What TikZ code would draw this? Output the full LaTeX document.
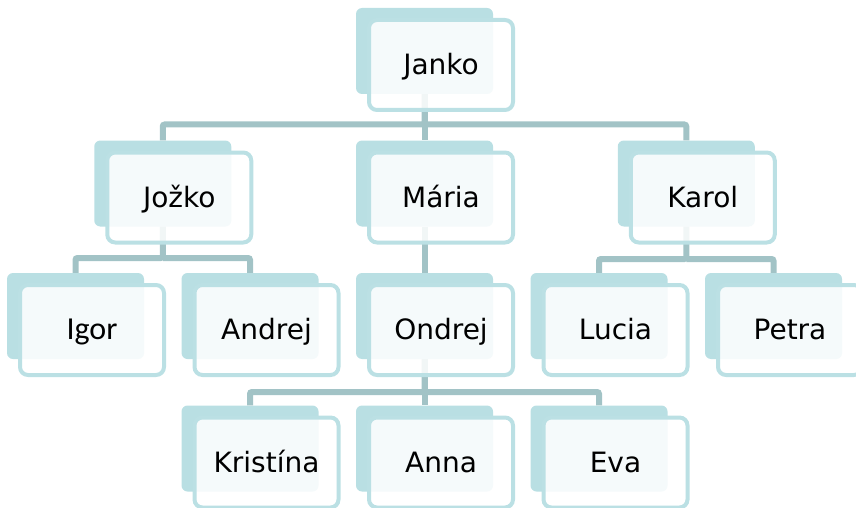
\documentclass[tikz,border=0pt]{standalone}
\usepackage{fontspec}
\setmainfont{DejaVu Sans}
\newfontfamily\igorfont{Carlito}
\definecolor{backteal}{HTML}{B9DFE3}
\definecolor{frontline}{HTML}{BBE0E4}
\definecolor{conn}{HTML}{A2C3C6}
\begin{document}
\begin{tikzpicture}[x=1pt,y=-1pt,
  backbox/.style={rectangle, rounded corners=6pt, fill=backteal,
    minimum width=137pt, minimum height=86pt, inner sep=0pt},
  frontbox/.style={rectangle, rounded corners=8pt, draw=frontline, line width=4pt,
    fill=white, fill opacity=0.86, text opacity=1, draw opacity=1,
    minimum width=144pt, minimum height=90pt, inner sep=0pt,
    font=\fontsize{28}{31}\selectfont, text height=19pt, text depth=0pt},
  link/.style={draw=conn, line width=6pt, rounded corners=2pt}]
\useasboundingbox (0,0) rectangle (856,508);
% back boxes
\node[backbox] (janko-b)    at (424.5,51) {};
\node[backbox] (jozko-b)    at (162.75,183.5) {};
\node[backbox] (maria-b)    at (424.5,183.5) {};
\node[backbox] (karol-b)    at (686.25,183.5) {};
\node[backbox] (igor-b)     at (75.5,316) {};
\node[backbox] (andrej-b)   at (250,316) {};
\node[backbox] (ondrej-b)   at (424.5,316) {};
\node[backbox] (lucia-b)    at (599,316) {};
\node[backbox] (petra-b)    at (773.5,316) {};
\node[backbox] (kristina-b) at (250,448.5) {};
\node[backbox] (anna-b)     at (424.5,448.5) {};
\node[backbox] (eva-b)      at (599,448.5) {};
% connectors
\coordinate (j0) at (424.5,124.5);
\coordinate (j1) at (162.75,258);
\coordinate (k1) at (686.25,259);
\coordinate (o1) at (424.5,392);
\draw[link] (janko-b.south) -- (j0) -| (jozko-b.north);
\draw[link] (j0) -| (karol-b.north);
\draw[link] (janko-b.south) -- (maria-b.north);
\draw[link] (jozko-b.south) -- (j1) -| (igor-b.north);
\draw[link] (j1) -| (andrej-b.north);
\draw[link] (maria-b.south) -- (ondrej-b.north);
\draw[link] (karol-b.south) -- (k1) -| (lucia-b.north);
\draw[link] (k1) -| (petra-b.north);
\draw[link] (ondrej-b.south) -- (o1) -| (kristina-b.north);
\draw[link] (o1) -| (eva-b.north);
\draw[link] (ondrej-b.south) -- (anna-b.north);
% front boxes
\node[frontbox] (janko)    at (441,65) {Janko};
\node[frontbox] (jozko)    at (179.25,197.5) {Jožko};
\node[frontbox] (maria)    at (441,197.5) {Mária};
\node[frontbox] (karol)    at (702.75,197.5) {Karol};
\node[frontbox] (igor)     at (92,330) {\igorfont\fontsize{32}{35}\selectfont Igor};
\node[frontbox] (andrej)   at (266.5,330) {Andrej};
\node[frontbox] (ondrej)   at (441,330) {Ondrej};
\node[frontbox] (lucia)    at (615.5,330) {Lucia};
\node[frontbox] (petra)    at (790,330) {Petra};
\node[frontbox] (kristina) at (266.5,462.5) {Kristína};
\node[frontbox] (anna)     at (441,462.5) {Anna};
\node[frontbox] (eva)      at (615.5,462.5) {Eva};
\end{tikzpicture}
\end{document}
